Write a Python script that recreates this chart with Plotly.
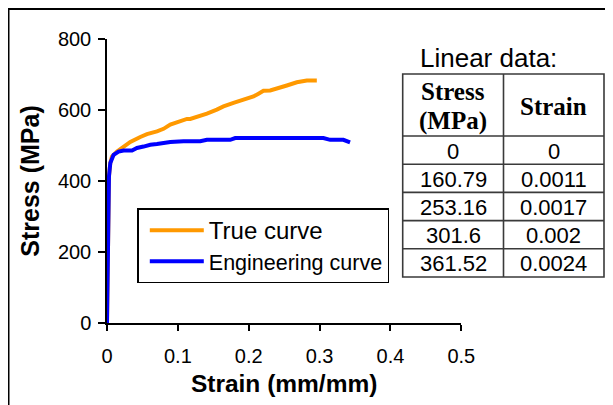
import plotly.graph_objects as go

# ---- data ----
true_strain = [0, 0.0011, 0.0017, 0.002, 0.0024, 0.0028, 0.0047, 0.0070, 0.0141, 0.0234,
               0.0329, 0.047, 0.0564, 0.0705, 0.0798, 0.0893, 0.1034, 0.1128, 0.1175,
               0.1269, 0.141, 0.155, 0.1644, 0.1785, 0.1926, 0.2067, 0.2138, 0.2208,
               0.2303, 0.2397, 0.2538, 0.2679, 0.282, 0.2961]
true_stress = [0, 161, 253, 302, 362, 414, 452, 469, 483, 497,
               510, 524, 532, 540, 547, 559, 568, 575, 575,
               580, 590, 601, 610, 620, 629, 638, 646, 654,
               655, 660, 669, 678, 683, 683]

eng_strain = [0, 0.0011, 0.0017, 0.002, 0.0024, 0.0028, 0.0047, 0.0093, 0.0164, 0.0234,
              0.0353, 0.0423, 0.0516, 0.0611, 0.0705, 0.0893, 0.108, 0.1316, 0.141,
              0.1739, 0.1809, 0.3054, 0.3149, 0.3336, 0.343]
eng_stress = [0, 160.79, 253.16, 301.6, 361.52, 413, 451, 474, 483, 486,
              486, 493, 497, 502, 504, 510, 512, 512, 516,
              516, 521, 521, 516, 516, 509]

table_title = "Linear data:"
table_headers = ["Stress<br>(MPa)", "Strain"]
lin_stress = ["0", "160.79", "253.16", "301.6", "361.52"]
lin_strain = ["0", "0.0011", "0.0017", "0.002", "0.0024"]

x_ticks = [0, 0.1, 0.2, 0.3, 0.4, 0.5]
y_ticks = [0, 200, 400, 600, 800]

# ---- layout geometry ----
# The page body has an 8px default margin, so figure pixels = screen pixels - OFF.
OFF = 8
W, H = 613 - OFF, 405 - OFF
L, R, T, B = 107 - OFF, 1, 39 - OFF, 82
PW = W - L - R
PH = H - T - B

def px2x(px):  # screen px -> paper x
    return (px - OFF - L) / PW

def px2y(py):  # screen px -> paper y
    return 1 - (py - OFF - T) / PH

SANS = "Liberation Sans, Arial, sans-serif"
SERIF = "Liberation Serif, Times New Roman, serif"

fig = go.Figure()
fig.add_trace(go.Scatter(
    x=true_strain, y=true_stress, mode="lines",
    name="<span style='font-size:24px'>True curve</span>",
    line=dict(color="#FF9900", width=4)))
fig.add_trace(go.Scatter(
    x=eng_strain, y=eng_stress, mode="lines",
    name="Engineering curve",
    line=dict(color="#0000FF", width=4)))

# ---- table (drawn with shapes + annotations) ----
TBL_X = [402.7, 503.5, 604.0]
TBL_TOP = 74.0
HEAD_H = 62.0
ROW_H = 28.2
LINE_C = "#3a3a3a"
n_rows = len(lin_stress)
row_lines = [TBL_TOP, TBL_TOP + HEAD_H] + [TBL_TOP + HEAD_H + ROW_H * (i + 1) for i in range(n_rows)]
tbl_bottom = row_lines[-1]

fig.add_shape(type="rect", xref="paper", yref="paper",
              x0=px2x(TBL_X[0]), x1=px2x(TBL_X[2]), y0=px2y(tbl_bottom), y1=px2y(TBL_TOP),
              line=dict(color=LINE_C, width=1.6), fillcolor="white", layer="above")
fig.add_shape(type="line", xref="paper", yref="paper",
              x0=px2x(TBL_X[1]), x1=px2x(TBL_X[1]), y0=px2y(tbl_bottom), y1=px2y(TBL_TOP),
              line=dict(color=LINE_C, width=1.6))
for yl in row_lines[1:-1]:
    fig.add_shape(type="line", xref="paper", yref="paper",
                  x0=px2x(TBL_X[0]), x1=px2x(TBL_X[2]), y0=px2y(yl), y1=px2y(yl),
                  line=dict(color=LINE_C, width=1.6))

col_centers = [(TBL_X[0] + TBL_X[1]) / 2, (TBL_X[1] + TBL_X[2]) / 2]
for ci, htxt in enumerate(table_headers):
    lines = htxt.split("<br>")
    n = len(lines)
    for li, t in enumerate(lines):
        cy = TBL_TOP + HEAD_H / 2 + (li - (n - 1) / 2) * 30
        fig.add_annotation(text="<b>%s</b>" % t, xref="paper", yref="paper",
                           x=px2x(col_centers[ci]), y=px2y(cy + 1),
                           xanchor="center", yanchor="middle", showarrow=False,
                           font=dict(family=SERIF, size=25, color="black"))
for ci, col in enumerate([lin_stress, lin_strain]):
    for ri, v in enumerate(col):
        cy = TBL_TOP + HEAD_H + ROW_H * (ri + 0.5)
        fig.add_annotation(text=v, xref="paper", yref="paper",
                           x=px2x(col_centers[ci]), y=px2y(cy + 1),
                           xanchor="center", yanchor="middle", showarrow=False,
                           font=dict(family=SANS, size=22, color="black"))

fig.add_annotation(text=table_title, xref="paper", yref="paper",
                   x=px2x(488), y=px2y(58), xanchor="center", yanchor="middle",
                   showarrow=False, font=dict(family=SANS, size=26, color="black"))

# outer frame
fig.add_shape(type="rect", xref="paper", yref="paper",
              x0=px2x(8.5), x1=px2x(640), y0=px2y(440), y1=px2y(9),
              line=dict(color="black", width=2), layer="below")

fig.update_layout(
    width=W, height=H,
    margin=dict(l=L, r=R, t=T, b=B),
    paper_bgcolor="white", plot_bgcolor="white",
    font=dict(family=SANS, color="black"),
    showlegend=True,
    legend=dict(x=px2x(137.3), y=px2y(208.3), xanchor="left", yanchor="top",
                bgcolor="white", bordercolor="black", borderwidth=1.5,
                font=dict(family=SANS, size=21.5, color="black"),
                itemwidth=54, indentation=6, tracegroupgap=0),
    xaxis=dict(domain=[0, (461.3 - OFF - L) / PW], range=[0, 0.5], automargin=False,
               tickvals=x_ticks, ticktext=[("%g" % v) for v in x_ticks],
               showline=True, linecolor="black", linewidth=1.5,
               ticks="outside", ticklen=6, tickwidth=1.5, tickcolor="black",
               ticklabelstandoff=8,
               showgrid=False, zeroline=False,
               tickfont=dict(family=SANS, size=20, color="black"),
               title=dict(text="<b>Strain (mm/mm)</b>", standoff=9,
                          font=dict(family=SANS, size=24.5, color="black"))),
    yaxis=dict(range=[0, 800], tickvals=y_ticks, automargin=False,
               showline=True, linecolor="black", linewidth=1.5,
               ticks="outside", ticklen=7, tickwidth=1.5, tickcolor="black",
               ticklabelstandoff=3,
               showgrid=False, zeroline=False,
               tickfont=dict(family=SANS, size=20, color="black"),
               title=dict(text="<b>Stress (MPa)</b>", standoff=11,
                          font=dict(family=SANS, size=25, color="black"))),
)

fig.write_html("out.html")
